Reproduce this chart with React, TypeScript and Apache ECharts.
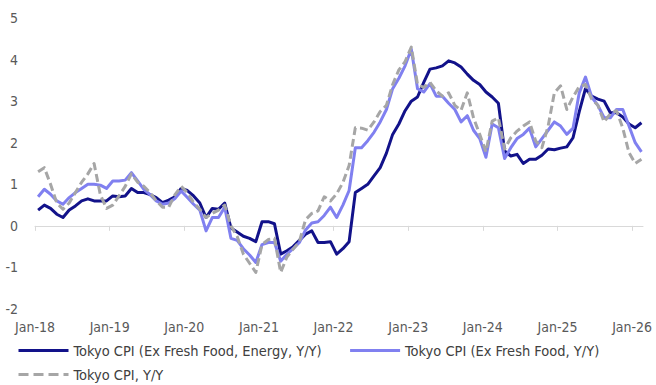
import { useEffect, useRef } from "react";
import * as echarts from "echarts";

// Year ticks on the date axis (one label every 12 months, Jan-2018 = month 0)
const tickLabels = ["Jan-18", "Jan-19", "Jan-20", "Jan-21", "Jan-22", "Jan-23", "Jan-24", "Jan-25", "Jan-26"];

const seriesNames = [
  "Tokyo CPI (Ex Fresh Food, Energy, Y/Y)",
  "Tokyo CPI (Ex Fresh Food, Y/Y)",
  "Tokyo CPI, Y/Y",
];

// Monthly Y/Y % change, Jan-2018 .. Feb-2026
const coreCore = [
  0.38, 0.5, 0.42, 0.28, 0.2, 0.38, 0.48, 0.6, 0.65, 0.6, 0.6, 0.6,
  0.72, 0.7, 0.72, 0.9, 0.8, 0.8, 0.75, 0.68, 0.56, 0.62, 0.7, 0.9,
  0.85, 0.72, 0.55, 0.2, 0.42, 0.4, 0.55, -0.05, -0.15, -0.25, -0.3, -0.38,
  0.1, 0.1, 0.05, -0.68, -0.6, -0.5, -0.35, -0.2, -0.12, -0.4, -0.4, -0.38,
  -0.68, -0.55, -0.38, 0.8, 0.9, 1.0, 1.2, 1.4, 1.75, 2.2, 2.45, 2.77,
  3.0, 3.1, 3.45, 3.77, 3.8, 3.85, 3.97, 3.92, 3.82, 3.65, 3.5, 3.4,
  3.22, 3.1, 2.95, 1.8, 1.68, 1.72, 1.5, 1.6, 1.6, 1.7, 1.85, 1.83,
  1.87, 1.9, 2.12, 2.75, 3.3, 3.12, 3.05, 3.0, 2.72, 2.72, 2.62, 2.45,
  2.36, 2.48,
];

const exFreshFood = [
  0.7, 0.88, 0.76, 0.6, 0.52, 0.68, 0.8, 0.9, 1.0, 1.0, 0.98, 0.9,
  1.08, 1.08, 1.1, 1.28, 1.08, 0.88, 0.75, 0.6, 0.52, 0.55, 0.66, 0.84,
  0.68, 0.52, 0.38, -0.12, 0.2, 0.2, 0.45, -0.3, -0.35, -0.55, -0.7, -0.88,
  -0.45, -0.4, -0.4, -0.85, -0.68, -0.55, -0.4, -0.1, 0.07, 0.1, 0.25, 0.45,
  0.2, 0.5, 0.85, 1.88, 1.88, 2.05, 2.25, 2.5, 2.8, 3.3, 3.55, 3.85,
  4.25, 3.3, 3.22, 3.42, 3.12, 3.12, 2.95, 2.8, 2.5, 2.65, 2.3, 2.1,
  1.65, 2.45, 2.36, 1.62, 1.88, 2.1, 2.2, 2.35, 1.9, 2.1, 2.3, 2.5,
  2.4, 2.2, 2.35, 3.2, 3.58, 3.1, 2.9, 2.6, 2.6, 2.8, 2.8, 2.4,
  2.0, 1.78,
];

const headline = [
  1.3, 1.4, 1.0, 0.55, 0.4, 0.55, 0.8, 1.05, 1.25, 1.5, 0.75, 0.42,
  0.5, 0.72, 0.95, 1.25, 1.05, 0.95, 0.8, 0.6, 0.45, 0.45, 0.75, 0.95,
  0.8, 0.56, 0.4, 0.2, 0.3, 0.38, 0.5, 0.0, -0.25, -0.68, -0.9, -1.12,
  -0.45, -0.33, -0.3, -1.12, -0.75, -0.56, -0.38, 0.15, 0.3, 0.36, 0.7, 0.6,
  0.77, 1.04, 1.45, 2.36, 2.35, 2.3, 2.5, 2.75, 2.9, 3.4, 3.75, 3.95,
  4.3, 3.4, 3.33, 3.45, 3.25, 3.12, 3.2, 2.9, 2.78, 3.2, 2.6, 2.2,
  1.78, 2.52, 2.6, 1.85, 2.12, 2.28, 2.4, 2.5, 2.04, 1.88, 2.4, 3.2,
  3.37, 2.8, 3.1, 3.35, 3.4, 3.05, 2.9, 2.5, 2.7, 2.77, 2.35, 1.76,
  1.5, 1.6,
];

const colors = ["#12128a", "#8080f0", "#a6a6a6"];

export default function App() {
  const ref = useRef<HTMLDivElement>(null);

  useEffect(() => {
    if (!ref.current) return;
    const chart = echarts.init(ref.current, null, { renderer: "svg" });
    const font = "'DejaVu Sans Condensed', 'Liberation Sans Narrow', 'Roboto', sans-serif";
    // each monthly observation sits mid-month on the axis
    const toPoints = (vals: number[]) => vals.map((v, i) => [i + 0.5, v]);
    const yearTicks = tickLabels.map((_, k) => k * 12);
    const xMax = 97.75;
    const labelFmt = (v: number) => (v % 12 === 0 && tickLabels[v / 12]) || "";

    const legendText = { color: "#404040", fontSize: 14.5, fontFamily: font };

    chart.setOption({
      animation: false,
      grid: { left: 35, right: 13, top: 18, bottom: 76, containLabel: false, outerBoundsMode: "none" },
      xAxis: [
        {
          type: "value",
          min: 0,
          max: xMax,
          interval: 12,
          position: "bottom",
          axisLine: { show: true, onZero: true, lineStyle: { color: "#d9d9d9", width: 1 } },
          axisTick: { show: true, length: 5, customValues: yearTicks, lineStyle: { color: "#d9d9d9" } },
          axisLabel: { show: false },
          splitLine: { show: false },
        },
        {
          type: "value",
          min: 0,
          max: xMax,
          interval: 12,
          position: "bottom",
          axisLine: { show: false, onZero: false },
          axisTick: { show: false },
          axisLabel: {
            show: true,
            customValues: yearTicks,
            formatter: labelFmt,
            color: "#595959",
            fontSize: 14,
            fontFamily: font,
            margin: 11,
          },
          splitLine: { show: false },
        },
      ],
      yAxis: {
        type: "value",
        min: -2,
        max: 5,
        interval: 1,
        axisLine: { show: false },
        axisTick: { show: false },
        splitLine: { show: false },
        axisLabel: { color: "#595959", fontSize: 14, fontFamily: font, margin: 17 },
      },
      legend: [
        {
          data: [seriesNames[0], seriesNames[1]],
          left: 12,
          top: 338,
          itemWidth: 50,
          itemHeight: 14,
          itemGap: 27,
          itemStyle: { opacity: 0 },
          lineStyle: { width: 3 },
          textStyle: legendText,
        },
        {
          data: [seriesNames[2]],
          left: 12,
          top: 362,
          itemWidth: 50,
          itemHeight: 14,
          itemGap: 27,
          itemStyle: { opacity: 0 },
          lineStyle: { width: 3, type: [10, 5] },
          textStyle: legendText,
        },
      ],
      series: [
        {
          name: seriesNames[0],
          type: "line",
          data: toPoints(coreCore),
          symbol: "none",
          lineStyle: { color: colors[0], width: 3, join: "round" },
          itemStyle: { color: colors[0] },
        },
        {
          name: seriesNames[1],
          type: "line",
          data: toPoints(exFreshFood),
          symbol: "none",
          lineStyle: { color: colors[1], width: 3, join: "round" },
          itemStyle: { color: colors[1] },
        },
        {
          name: seriesNames[2],
          type: "line",
          data: toPoints(headline),
          symbol: "none",
          lineStyle: { color: colors[2], width: 3, type: [8, 4], join: "round" },
          itemStyle: { color: colors[2] },
        },
      ],
    });

    return () => chart.dispose();
  }, []);

  return (
    <div
      ref={ref}
      style={{ position: "absolute", left: 0, top: 0, width: 656, height: 385 }}
    />
  );
}
